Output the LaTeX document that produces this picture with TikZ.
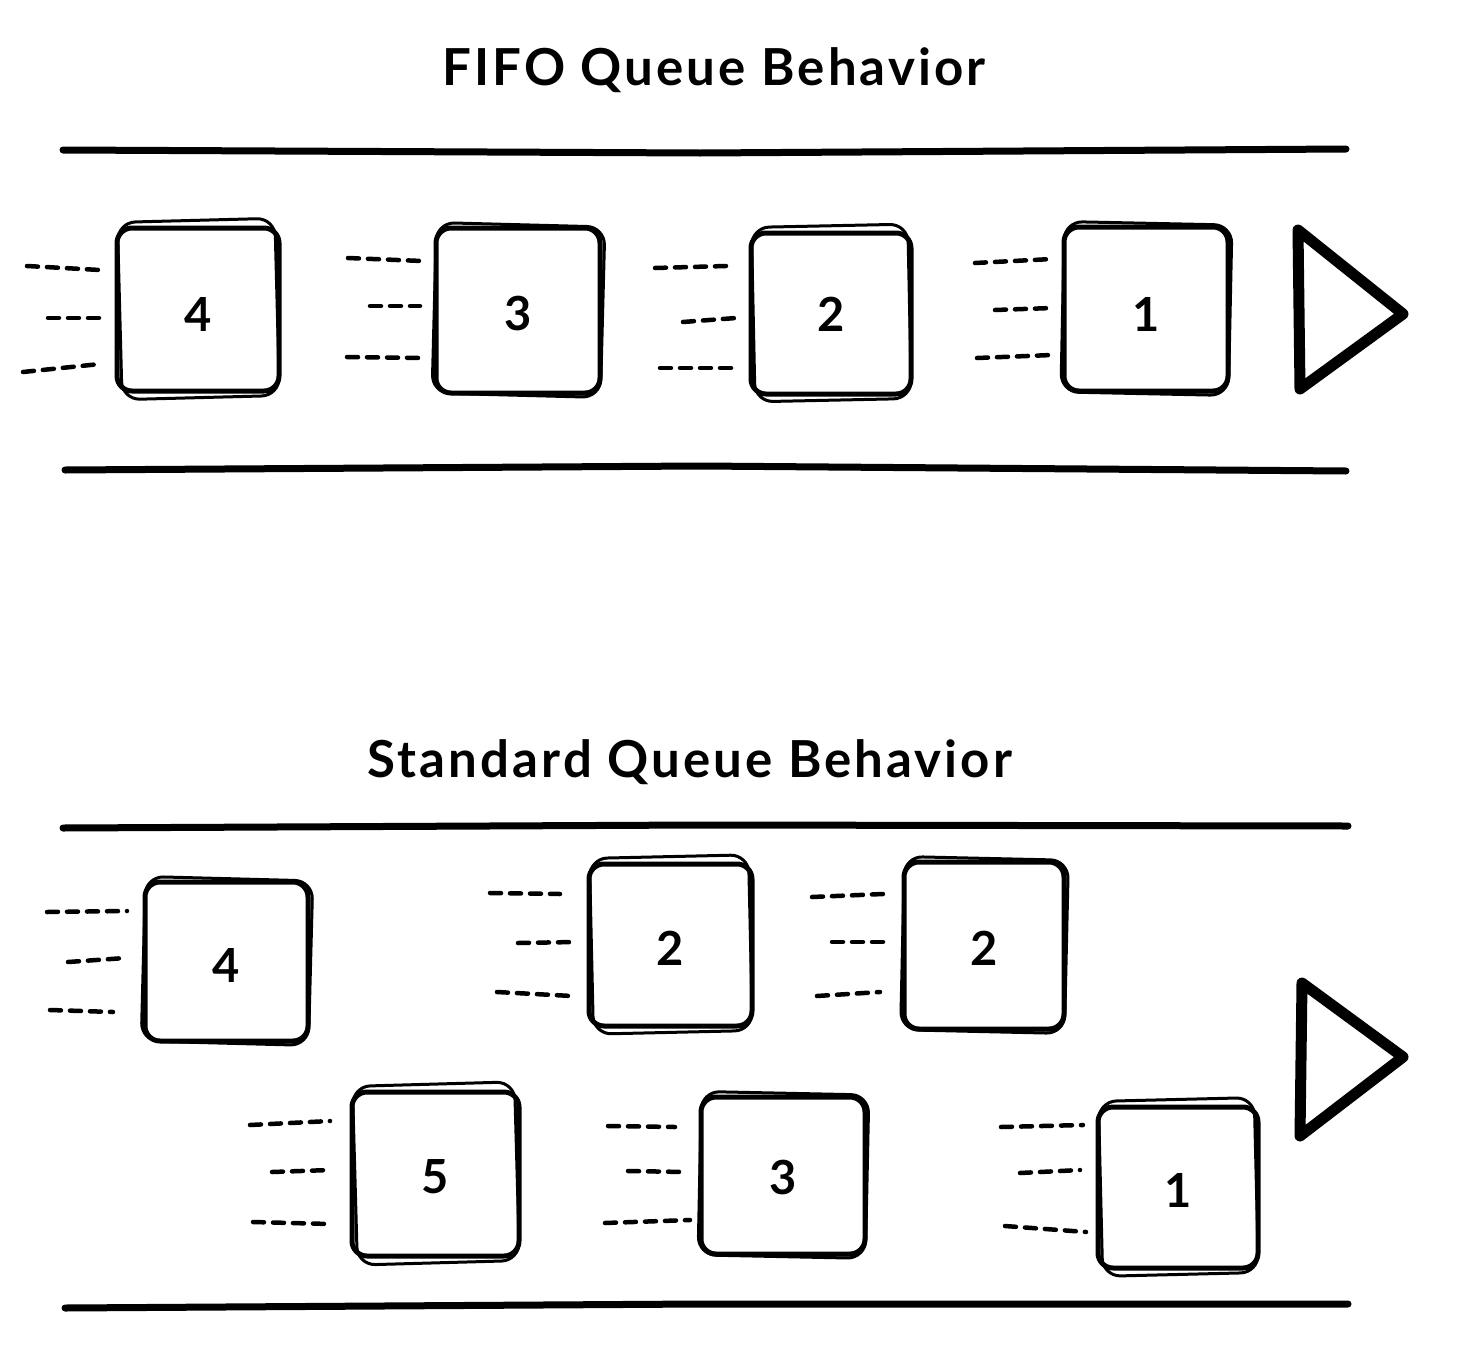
\documentclass[tikz,border=0pt]{standalone}
\usepackage{fontspec}
\setmainfont{Lato}
\newfontfamily\tfont{Lato}[LetterSpace=6]
\newfontfamily\dfont{Lato}
\usetikzlibrary{calc}
\tikzset{
  x=1pt, y=-1pt,
  lane/.style={line width=7pt, line cap=round},
  qbox/.style={draw, line width=5pt, rounded corners=15pt, inner sep=0pt},
  qbox2/.style={line width=3pt, rounded corners=18pt},
  speed/.style={line width=4.5pt, line cap=round, dash pattern=on 11pt off 9pt},
  tri/.style={line width=11pt, line join=round, line cap=round},
  ttl/.style={font=\tfont\bfseries\fontsize{51}{55}\selectfont},
  lbl/.style={font=\dfont\bfseries\fontsize{47}{51}\selectfont}
}
\newcommand{\qb}[8]{% name, x1, y1, x2, y2, label, labely, rot
  \node[qbox, minimum width=#4-#2, minimum height=#5-#3] (#1) at ({(#2+#4)/2},{(#3+#5)/2}) {};
  \node[lbl] (#1l) at ({(#2+#4)/2},#7) {#6};
  \draw[qbox2, rotate around={#8:(#1.center)}] ($(#1.north west)+(3,-3)$) rectangle ($(#1.south east)+(-2,2)$);
}
\newcommand{\spd}[4]{% y, x1, x2, y2
  \draw[speed] (#2,#1) -- (#3,#4);
}
\begin{document}
\begin{tikzpicture}
\useasboundingbox (0,0) rectangle (1460,1368);
\fill[white] (0,0) rectangle (1460,1368);

% ---- FIFO ----
\node[ttl] (t1) at (714,70) {FIFO Queue Behavior};
\draw[lane] (63,150) -- (700,153) -- (1346,149);
\draw[lane] (65,470) -- (700,466) -- (1346,471);

\qb{a4}{117}{228}{279}{391}{4}{314}{1.5}
\qb{a3}{436}{228}{600}{393}{3}{314}{-1.5}
\qb{a2}{751}{233}{911}{394}{2}{314}{1.2}
\qb{a1}{1064}{227}{1228}{391}{1}{314}{-1.2}

\spd{266}{27}{100}{270}
\spd{318}{48}{100}{318}
\spd{372}{23}{100}{364}

\spd{258}{348}{422}{261}
\spd{306}{370}{420}{306}
\spd{357}{347}{425}{358}

\spd{268}{655}{726}{266}
\spd{322}{683}{736}{318}
\spd{368}{660}{738}{368}

\spd{263}{975}{1052}{259}
\spd{310}{995}{1052}{308}
\spd{358}{977}{1052}{355}

\draw[tri] (1298,230) -- (1403,314) -- (1300,389) -- cycle;

% ---- Standard ----
\node[ttl] (t2) at (690,762) {Standard Queue Behavior};
\draw[lane] (63,828) -- (700,825) -- (1348,826);
\draw[lane] (65,1308) -- (700,1304) -- (1348,1304);

\qb{b4}{145}{882}{308}{1041}{4}{965}{-1.5}
\qb{b2}{589}{864}{752}{1026}{2}{948}{1.3}
\qb{c2}{904}{862}{1064}{1029}{2}{948}{-1.3}
\qb{b5}{352}{1092}{519}{1256}{5}{1177}{1.6}
\qb{b3}{701}{1097}{865}{1254}{3}{1177}{-1.2}
\qb{b1}{1098}{1107}{1258}{1268}{1}{1190}{1.4}

\spd{912}{47}{127}{911}
\spd{962}{68}{125}{958}
\spd{1010}{50}{113}{1012}

\spd{893}{490}{560}{894}
\spd{943}{518}{575}{942}
\spd{992}{497}{572}{996}

\spd{897}{812}{883}{894}
\spd{942}{832}{883}{942}
\spd{996}{817}{880}{992}

\spd{1125}{250}{330}{1121}
\spd{1172}{272}{330}{1170}
\spd{1222}{253}{330}{1224}

\spd{1126}{608}{675}{1127}
\spd{1171}{628}{685}{1172}
\spd{1223}{605}{690}{1220}

\spd{1127}{1001}{1083}{1125}
\spd{1173}{1020}{1080}{1170}
\spd{1226}{1005}{1086}{1232}

\draw[tri] (1302,983) -- (1403,1057) -- (1300,1136) -- cycle;
\end{tikzpicture}
\end{document}
